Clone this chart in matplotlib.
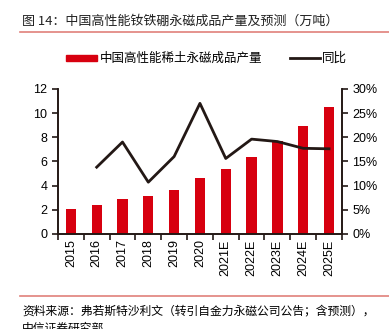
import matplotlib
matplotlib.use("Agg")
import matplotlib.pyplot as plt
from matplotlib.patches import Rectangle
from matplotlib.lines import Line2D
import numpy as np

plt.rcParams['font.family'] = ['Liberation Sans', 'Noto Sans CJK SC', 'DejaVu Sans']

years = ["2015", "2016", "2017", "2018", "2019", "2020",
         "2021E", "2022E", "2023E", "2024E", "2025E"]
output = [2.1, 2.4, 2.9, 3.15, 3.65, 4.6, 5.35, 6.4, 7.7, 8.95, 10.5]
yoy = [np.nan, 13.8, 19.0, 10.7, 16.0, 27.0, 15.6, 19.6, 19.1, 17.7, 17.6]

title = "图 14：中国高性能钕铁硼永磁成品产量及预测（万吨）"
bar_label = "中国高性能稀土永磁成品产量"
line_label = "同比"
source = "资料来源：弗若斯特沙利文（转引自金力永磁公司公告；含预测），\n中信证券研究部"

red = "#d7000f"
dark = "#231815"
rule = "#e0807a"
cjk = ['Noto Sans CJK SC', 'DejaVu Sans']

fig = plt.figure(figsize=(3.89, 3.29), dpi=100)
ax = fig.add_axes([0.149, 0.289, 0.730, 0.441])
x = np.arange(len(years))
ax.bar(x, output, width=0.4, color=red, zorder=2)
ax.set_xlim(-0.5, len(years) - 0.5)
ax.set_ylim(0, 12)
ax.set_yticks(np.arange(0, 13, 2))
ax.set_xticks(np.arange(-0.5, len(years), 1.0), minor=False)
ax.set_xticklabels([])
ax.set_xticks(x, minor=True)
ax.set_xticklabels(years, minor=True, rotation=90, fontsize=9)
ax.tick_params(axis='x', which='minor', length=0, pad=4)
ax.tick_params(axis='x', which='major', length=4, width=1.2, direction='out', color=dark)
ax.tick_params(axis='y', length=4, width=1.2, direction='out', labelsize=9, color=dark)

ax2 = ax.twinx()
ax2.plot(x, yoy, color=dark, lw=2, zorder=3)
ax2.set_ylim(0, 30)
ax2.set_yticks(np.arange(0, 31, 5))
ax2.set_yticklabels([f"{v}%" for v in range(0, 31, 5)])
ax2.tick_params(axis='y', length=4, width=1.2, direction='out', labelsize=9, color=dark)

for a in (ax, ax2):
    a.spines['top'].set_visible(False)
    for s in ('left', 'right', 'bottom'):
        a.spines[s].set_linewidth(1.2)
        a.spines[s].set_color(dark)

fig.text(22 / 389, 1 - 21 / 329, title, fontsize=9.4, family=cjk, va='center', ha='left', color='#222222')
fig.add_artist(Line2D([20 / 389, 1.0], [1 - 31.5 / 329] * 2, color=rule, lw=1.2))
fig.add_artist(Line2D([20 / 389, 1.0], [1 - 295.5 / 329] * 2, color=rule, lw=1.2))

# legend drawn by hand across the top
ly = 1 - 58 / 329
fig.add_artist(Rectangle((66 / 389, ly - 3 / 329), 31 / 389, 6 / 329, color=red, transform=fig.transFigure))
fig.text(100 / 389, ly, bar_label, fontsize=9, family=cjk, va='center', ha='left')
fig.add_artist(Line2D([290 / 389, 320 / 389], [ly, ly], color=dark, lw=2))
fig.text(322 / 389, ly, line_label, fontsize=9, family=cjk, va='center', ha='left')

fig.text(22 / 389, 1 - 304.5 / 329, source, fontsize=8.5, family=cjk, va='top', ha='left', linespacing=1.45)

fig.savefig("out.png", dpi=100)
